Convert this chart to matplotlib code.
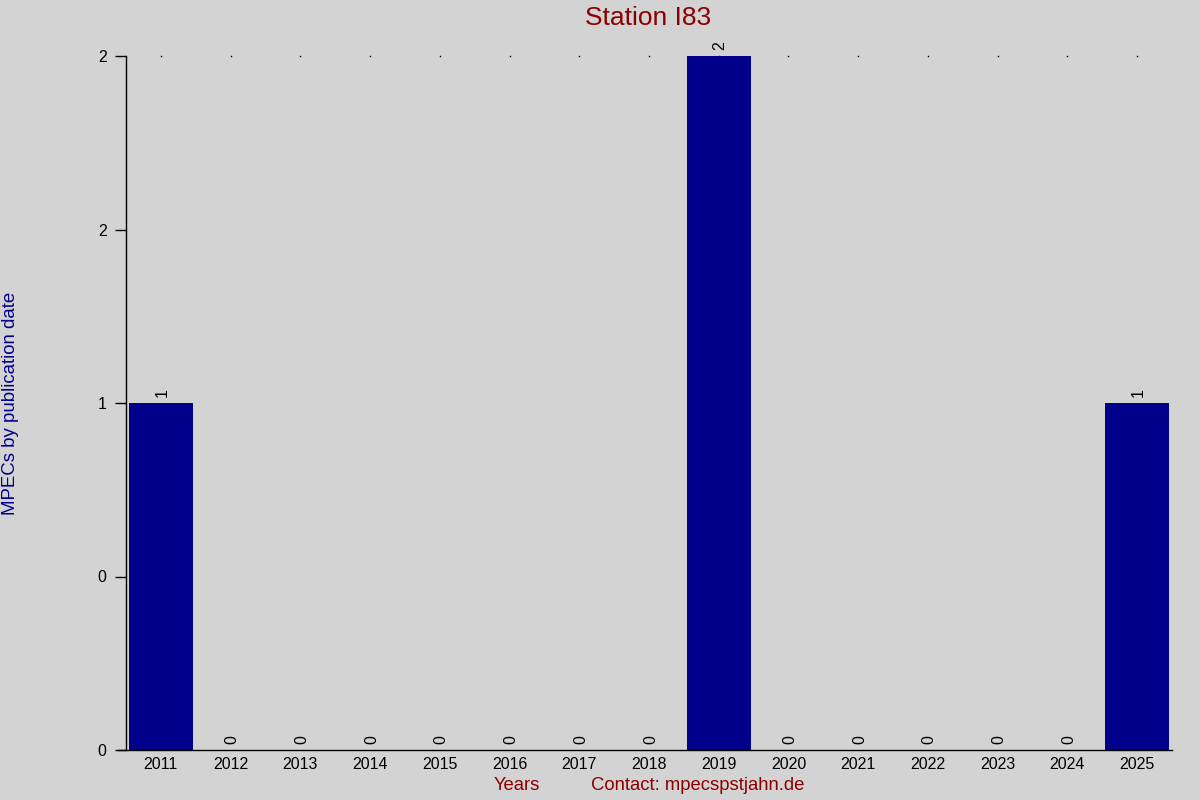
import matplotlib
matplotlib.use("Agg")
import matplotlib.pyplot as plt

years = [2011, 2012, 2013, 2014, 2015, 2016, 2017, 2018, 2019, 2020, 2021, 2022, 2023, 2024, 2025]
counts = [1, 0, 0, 0, 0, 0, 0, 0, 2, 0, 0, 0, 0, 0, 1]
ytick_vals = [0, 0.5, 1, 1.5, 2]
ytick_labels = ["0", "0", "1", "2", "2"]

plt.rcParams['font.family'] = ['Liberation Sans', 'DejaVu Sans']
bg = '#d3d3d3'
fig = plt.figure(figsize=(12, 8), dpi=100, facecolor=bg)
ax = fig.add_axes([126/1200, 1-750/800, (1172-126)/1200, (750-56)/800])
ax.set_facecolor(bg)

ax.bar(years, counts, width=0.92, color='#00008b', zorder=2)
for x, v in zip(years, counts):
    ax.annotate(str(v), (x, v), xytext=(1, 4), textcoords='offset points',
                rotation=90, ha='center', va='bottom', fontsize=11.5, color='black')
ax.plot(years, [2]*len(years), linestyle='none', marker='s', markersize=1.0,
        markeredgewidth=0, color='black', zorder=1, clip_on=False)

ax.set_xlim(years[0]-0.5, years[-1]+0.5)
ax.set_ylim(0, 2)
ax.set_yticks(ytick_vals)
ax.set_yticklabels(ytick_labels, fontsize=11.5)
ax.set_xticks(years)
ax.set_xticklabels([str(y) for y in years], fontsize=11.5)
ax.tick_params(axis='x', length=0, pad=5)
ax.tick_params(axis='y', length=8, width=1, pad=6, direction='out')
ax.spines['top'].set_visible(False)
ax.spines['right'].set_visible(False)
ax.spines['left'].set_linewidth(1)
ax.spines['bottom'].set_linewidth(1)
ax.spines['bottom'].set_bounds(years[0]-0.62, years[-1]+0.5)

fig.text(648/1200, 1-18/800, "Station I83", ha='center', va='center', fontsize=19, color='#8b0000')
fig.text(517/1200, 1-786/800, "Years", ha='center', va='center', fontsize=13.3, color='#8b0000')
fig.text(698/1200, 1-786/800, "Contact: mpecspstjahn.de", ha='center', va='center', fontsize=13.3, color='#8b0000')
fig.text(11/1200, 1-403/800, "MPECs by publication date", ha='center', va='center', rotation=90, fontsize=13.4, color='#00008b')

fig.savefig("out.png", dpi=100, facecolor=bg)
